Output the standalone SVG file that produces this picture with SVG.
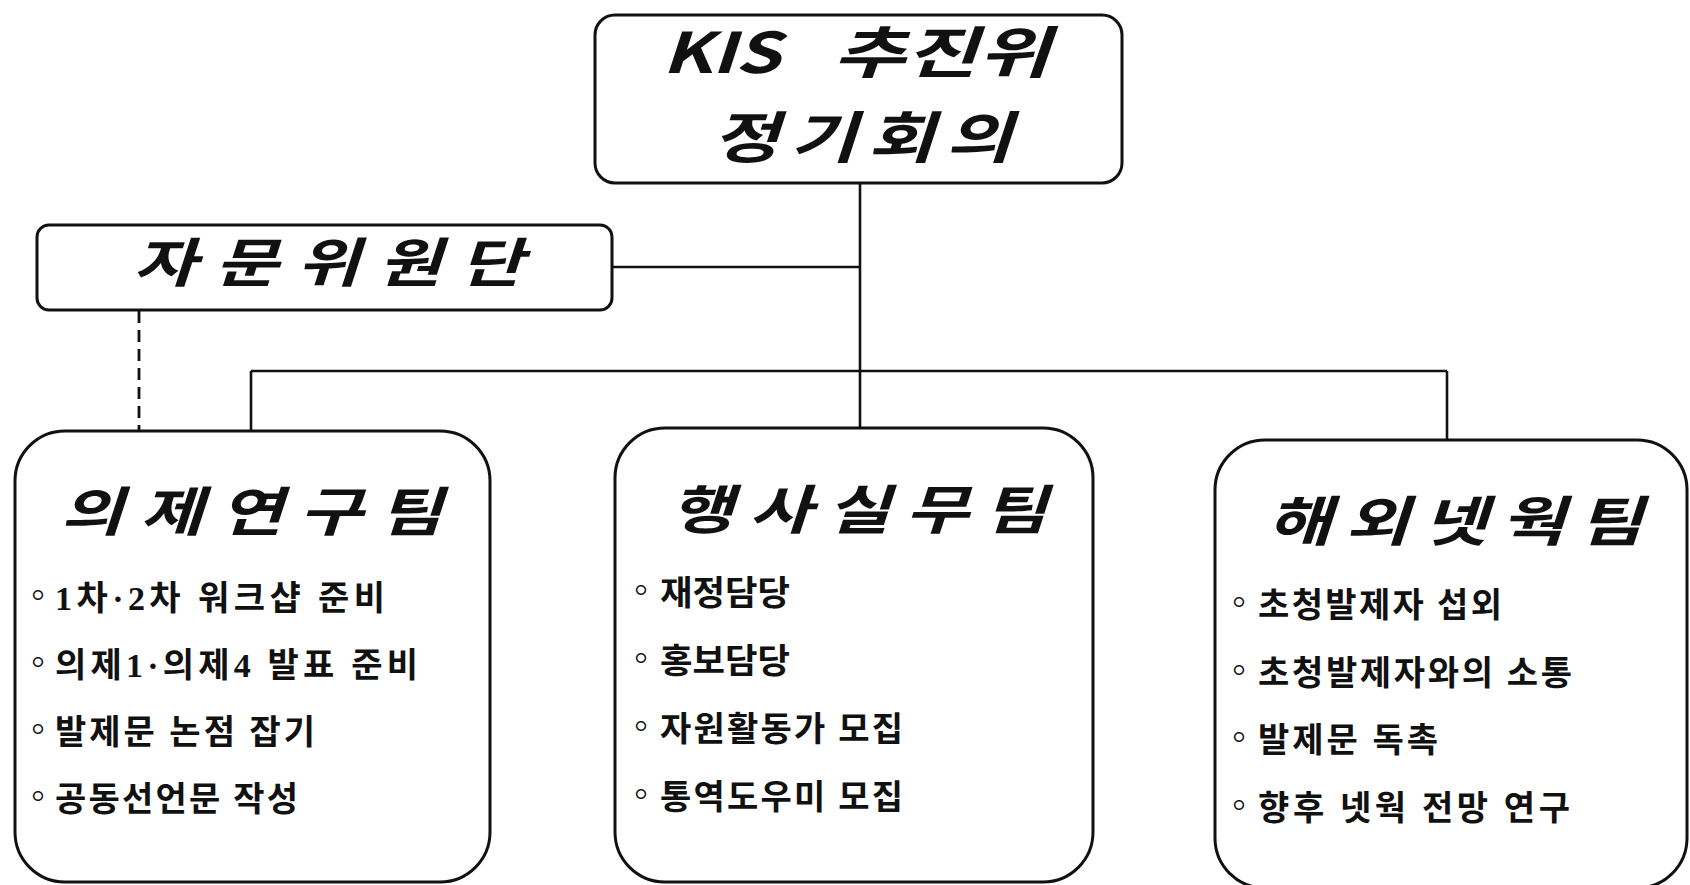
<svg xmlns="http://www.w3.org/2000/svg" width="1690" height="885" viewBox="0 0 1690 885">
<style>
.box{fill:#fff;stroke:#111;stroke-width:3}
.ln{fill:none;stroke:#111;stroke-width:2.6}
.dash{fill:none;stroke:#111;stroke-width:2.8;stroke-dasharray:12 7}
.ttl{font-family:"Noto Sans CJK KR","Noto Sans",sans-serif;font-weight:700;font-style:italic;fill:#111}
.itm{font-family:"Liberation Serif","Noto Sans CJK KR",serif;font-weight:700;font-size:34px;fill:#111}
.bul{font-family:"Noto Sans CJK KR",sans-serif;font-weight:700;font-size:34px;fill:#111;text-anchor:middle}
</style>
<rect width="1690" height="885" fill="#fff"/>
<g id="connectors">
<line class="ln" x1="860" y1="183" x2="860" y2="429"/>
<line class="ln" x1="612" y1="267" x2="860" y2="267"/>
<line class="ln" x1="251" y1="371" x2="1447" y2="371"/>
<line class="ln" x1="251" y1="371" x2="251" y2="432"/>
<line class="ln" x1="1447" y1="371" x2="1447" y2="441"/>
<line class="dash" x1="139" y1="311" x2="139" y2="432"/>
</g>
<g id="node-top">
<rect class="box" x="595" y="15" width="527" height="168" rx="20"/>
<text class="ttl" transform="translate(662 73) scale(1.3 1)" font-size="56" textLength="91" lengthAdjust="spacing">KIS</text>
<text class="ttl" transform="translate(833 73) scale(1.3 1)" font-size="56" textLength="167" lengthAdjust="spacingAndGlyphs">추진위</text>
<text class="ttl" transform="translate(712 158) scale(1.3 1)" font-size="56" textLength="231" lengthAdjust="spacing">정기회의</text>
</g>
<g id="node-advisory">
<rect class="box" x="37" y="225" width="575" height="85" rx="12"/>
<text class="ttl" transform="translate(133 282) scale(1.3 1)" font-size="53" textLength="300" lengthAdjust="spacing">자문위원단</text>
</g>
<g id="node-agenda">
<rect class="box" x="15" y="431" width="475" height="451" rx="50"/>
<text class="ttl" transform="translate(60 531) scale(1.3 1)" font-size="53" textLength="294" lengthAdjust="spacing">의제연구팀</text>
<text class="bul" x="38" y="608">◦</text>
<text class="itm" x="55" y="610" textLength="330" lengthAdjust="spacing">1차·2차 워크샵 준비</text>
<text class="bul" x="38" y="675">◦</text>
<text class="itm" x="55" y="677" textLength="363" lengthAdjust="spacing">의제1·의제4 발표 준비</text>
<text class="bul" x="38" y="742">◦</text>
<text class="itm" x="55" y="744" textLength="260" lengthAdjust="spacing">발제문 논점 잡기</text>
<text class="bul" x="38" y="809">◦</text>
<text class="itm" x="55" y="811" textLength="243" lengthAdjust="spacing">공동선언문 작성</text>
</g>
<g id="node-event">
<rect class="box" x="615" y="428" width="478" height="454" rx="50"/>
<text class="ttl" transform="translate(670 529) scale(1.3 1)" font-size="53" textLength="290" lengthAdjust="spacing">행사실무팀</text>
<text class="bul" x="641" y="603">◦</text>
<text class="itm" x="660" y="605" textLength="130" lengthAdjust="spacingAndGlyphs">재정담당</text>
<text class="bul" x="641" y="671">◦</text>
<text class="itm" x="660" y="673" textLength="130" lengthAdjust="spacingAndGlyphs">홍보담당</text>
<text class="bul" x="641" y="739">◦</text>
<text class="itm" x="660" y="741" textLength="243" lengthAdjust="spacing">자원활동가 모집</text>
<text class="bul" x="641" y="807">◦</text>
<text class="itm" x="660" y="809" textLength="243" lengthAdjust="spacing">통역도우미 모집</text>
</g>
<g id="node-network">
<rect class="box" x="1215" y="440" width="472" height="448" rx="50"/>
<text class="ttl" transform="translate(1267 541) scale(1.3 1)" font-size="54" textLength="289" lengthAdjust="spacing">해외넷웍팀</text>
<text class="bul" x="1239" y="615">◦</text>
<text class="itm" x="1258" y="617" textLength="244" lengthAdjust="spacing">초청발제자 섭외</text>
<text class="bul" x="1239" y="683">◦</text>
<text class="itm" x="1258" y="685" textLength="314" lengthAdjust="spacing">초청발제자와의 소통</text>
<text class="bul" x="1239" y="750">◦</text>
<text class="itm" x="1258" y="752" textLength="180" lengthAdjust="spacing">발제문 독촉</text>
<text class="bul" x="1239" y="818">◦</text>
<text class="itm" x="1258" y="820" textLength="312" lengthAdjust="spacing">향후 넷웍 전망 연구</text>
</g>
</svg>
